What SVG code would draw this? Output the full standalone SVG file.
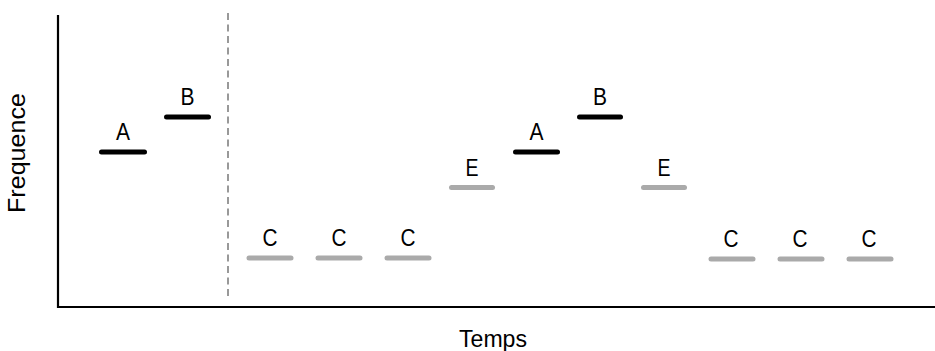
<svg xmlns="http://www.w3.org/2000/svg" width="935" height="351" viewBox="0 0 935 351">
  <style>
    .axis { stroke: #000; stroke-width: 2.2; fill: none; }
    .split { stroke: #999; stroke-width: 2; stroke-dasharray: 7 4.5; }
    .tone { stroke-width: 5; stroke-linecap: round; }
    .main { stroke: #000; }
    .other { stroke: #aaa; }
    .lbl { font-family: "Liberation Sans", Arial, sans-serif; font-size: 24px; fill: #000; text-anchor: middle; }
    .title { font-family: "Liberation Sans", Arial, sans-serif; font-size: 23px; fill: #000; text-anchor: middle; }
  </style>

  <!-- axes -->
  <g id="axes">
    <path class="axis" d="M58 15 V307 H935"/>
    <text class="title" x="493" y="347" textLength="68" lengthAdjust="spacingAndGlyphs">Temps</text>
    <text class="title" transform="translate(25 153) rotate(-90)" textLength="120" lengthAdjust="spacingAndGlyphs">Frequence</text>
  </g>

  <!-- separator -->
  <line class="split" x1="228" y1="13" x2="228" y2="298"/>

  <!-- tones: bar + letter -->
  <g id="n1"><line class="tone main" x1="101.5" y1="152" x2="144.5" y2="152"/><text class="lbl" x="123" y="140" textLength="14" lengthAdjust="spacingAndGlyphs">A</text></g>
  <g id="n2"><line class="tone main" x1="166.5" y1="117" x2="208.5" y2="117"/><text class="lbl" x="187.5" y="105" textLength="14" lengthAdjust="spacingAndGlyphs">B</text></g>
  <g id="n3"><line class="tone other" x1="249" y1="258" x2="291" y2="258"/><text class="lbl" x="270" y="246" textLength="15" lengthAdjust="spacingAndGlyphs">C</text></g>
  <g id="n4"><line class="tone other" x1="318" y1="258" x2="360" y2="258"/><text class="lbl" x="339" y="246" textLength="15" lengthAdjust="spacingAndGlyphs">C</text></g>
  <g id="n5"><line class="tone other" x1="387" y1="258" x2="429" y2="258"/><text class="lbl" x="408" y="246" textLength="15" lengthAdjust="spacingAndGlyphs">C</text></g>
  <g id="n6"><line class="tone other" x1="451.5" y1="187.5" x2="492.5" y2="187.5"/><text class="lbl" x="472" y="175.5" textLength="13" lengthAdjust="spacingAndGlyphs">E</text></g>
  <g id="n7"><line class="tone main" x1="515.5" y1="152" x2="557.5" y2="152"/><text class="lbl" x="536.5" y="140" textLength="14" lengthAdjust="spacingAndGlyphs">A</text></g>
  <g id="n8"><line class="tone main" x1="579.5" y1="117" x2="620.5" y2="117"/><text class="lbl" x="600" y="105" textLength="14" lengthAdjust="spacingAndGlyphs">B</text></g>
  <g id="n9"><line class="tone other" x1="643.5" y1="187.5" x2="684.5" y2="187.5"/><text class="lbl" x="664" y="175.5" textLength="13" lengthAdjust="spacingAndGlyphs">E</text></g>
  <g id="n10"><line class="tone other" x1="711" y1="259" x2="753" y2="259"/><text class="lbl" x="731" y="246.5" textLength="15" lengthAdjust="spacingAndGlyphs">C</text></g>
  <g id="n11"><line class="tone other" x1="780" y1="259" x2="822" y2="259"/><text class="lbl" x="800" y="246.5" textLength="15" lengthAdjust="spacingAndGlyphs">C</text></g>
  <g id="n12"><line class="tone other" x1="849" y1="259" x2="891" y2="259"/><text class="lbl" x="869" y="246.5" textLength="15" lengthAdjust="spacingAndGlyphs">C</text></g>
</svg>
